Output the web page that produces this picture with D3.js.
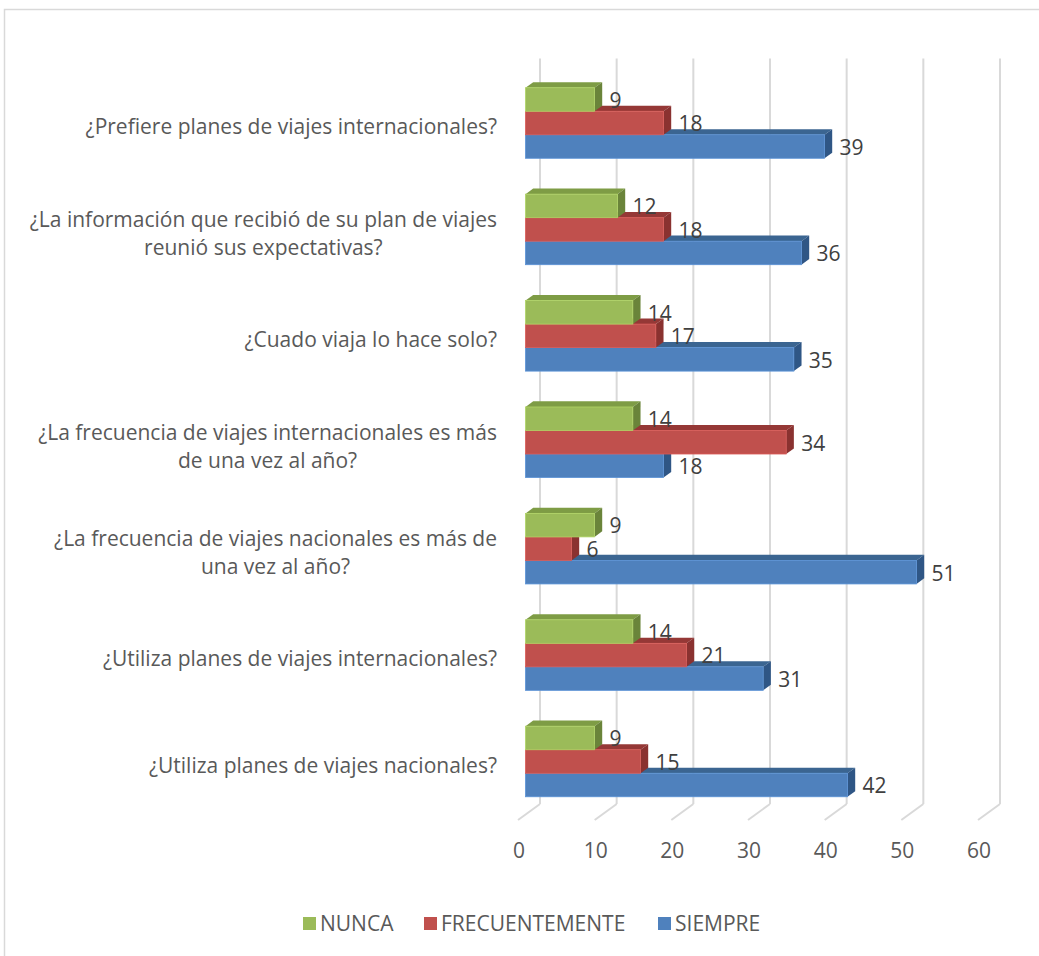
<!DOCTYPE html>
<html>
<head>
<meta charset="utf-8">
<script src="https://cdn.jsdelivr.net/npm/d3@7"></script>
<style>
  html, body { margin: 0; padding: 0; background: #fff; }
  svg { display: block; }
  text { font-family: "Open Sans", Lato, sans-serif; }
</style>
</head>
<body>
<svg id="chart" width="1039" height="956"></svg>
<script>
// Survey questions, top to bottom
const categories = [
  ["¿Prefiere planes de viajes internacionales?"],
  ["¿La información que recibió de su plan de viajes", "reunió sus expectativas?"],
  ["¿Cuado viaja lo hace solo?"],
  ["¿La frecuencia de viajes internacionales es más", "de una vez al año?"],
  ["¿La frecuencia de viajes nacionales es más de", "una vez al año?"],
  ["¿Utiliza planes de viajes internacionales?"],
  ["¿Utiliza planes de viajes nacionales?"]
];
const seriesNames = ["NUNCA", "FRECUENTEMENTE", "SIEMPRE"];
const nunca          = [9, 12, 14, 14, 9, 14, 9];
const frecuentemente = [18, 18, 17, 34, 6, 21, 15];
const siempre        = [39, 36, 35, 18, 51, 31, 42];
const tickValues = [0, 10, 20, 30, 40, 50, 60];

const seriesValues = [nunca, frecuentemente, siempre];
const faceColors = {
  NUNCA:          { front: "#9BBB59", top: "#7E9C45", side: "#6A843A" },
  FRECUENTEMENTE: { front: "#C0504D", top: "#953836", side: "#8A3230" },
  SIEMPRE:        { front: "#4F81BD", top: "#3B6591", side: "#2F5685" }
};

const FONT = 21;
const svg = d3.select("#chart");

// outer chart frame
svg.append("rect")
  .attr("x", 4.5).attr("y", 9.5)
  .attr("width", 1060).attr("height", 980)
  .attr("fill", "none").attr("stroke", "#D9D9D9").attr("stroke-width", 1.5);

// 3D projection: floor front edge, bar plane and back wall offsets
const floorFrontX = 518, floorFrontY = 820;
const wallDX = 22, wallDY = -16;          // front edge -> back wall
const barDX = 7.5, barDY = -5.5;          // floor front -> bar front face
const depthDX = 7.7, depthDY = -5.6;      // bar thickness

const x = d3.scaleLinear().domain([0, 60]).range([0, 460]);

const y = d3.scaleBand()
  .domain(d3.range(categories.length))
  .range([69.8, 814.7])
  .paddingInner(0.337)
  .paddingOuter(0.1685);
const ySub = d3.scaleBand().domain(seriesNames).range([0, y.bandwidth()]);

// back wall gridlines
const grid = svg.append("g");
grid.selectAll("line.wall").data(tickValues).join("line")
  .attr("x1", d => floorFrontX + wallDX + x(d))
  .attr("x2", d => floorFrontX + wallDX + x(d))
  .attr("y1", 58.5)
  .attr("y2", floorFrontY + wallDY)
  .attr("stroke", "#D9D9D9").attr("stroke-width", 2);
// floor gridlines running towards the viewer
grid.selectAll("line.floor").data(tickValues).join("line")
  .attr("x1", d => floorFrontX + wallDX + x(d))
  .attr("y1", floorFrontY + wallDY)
  .attr("x2", d => floorFrontX + x(d))
  .attr("y2", floorFrontY)
  .attr("stroke", "#D9D9D9").attr("stroke-width", 2);

// value axis labels
svg.append("g").selectAll("text").data(tickValues).join("text")
  .attr("x", d => floorFrontX + 1 + x(d))
  .attr("y", 851)
  .attr("dy", "0.35em")
  .attr("text-anchor", "middle")
  .attr("font-size", FONT)
  .attr("fill", "#595959")
  .text(d => d);

// bars: draw bottom series first so upper bars overlap their top faces
const x0 = floorFrontX + barDX;
const bars = svg.append("g");
categories.forEach((cat, i) => {
  for (let s = seriesNames.length - 1; s >= 0; s--) {
    const name = seriesNames[s];
    const v = seriesValues[s][i];
    const c = faceColors[name];
    const yTop = y(i) + ySub(name);
    const h = ySub.bandwidth();
    const xe = x0 + x(v);
    const g = bars.append("g");
    // top face
    g.append("path")
      .attr("d", `M${x0},${yTop} L${x0 + depthDX},${yTop + depthDY} L${xe + depthDX},${yTop + depthDY} L${xe},${yTop} Z`)
      .attr("fill", c.top);
    // right face
    g.append("path")
      .attr("d", `M${xe},${yTop} L${xe + depthDX},${yTop + depthDY} L${xe + depthDX},${yTop + h + depthDY} L${xe},${yTop + h} Z`)
      .attr("fill", c.side);
    // front face
    g.append("rect")
      .attr("x", x0).attr("y", yTop)
      .attr("width", x(v)).attr("height", h)
      .attr("fill", c.front)
      .attr("stroke", d3.color(c.front).brighter(0.35)).attr("stroke-width", 0.8);
  }
});

// value labels
const labels = svg.append("g");
categories.forEach((cat, i) => {
  seriesNames.forEach((name, s) => {
    const v = seriesValues[s][i];
    labels.append("text")
      .attr("x", x0 + x(v) + 15)
      .attr("y", y(i) + ySub(name) + ySub.bandwidth() / 2 + 1)
      .attr("dy", "0.35em")
      .attr("font-size", FONT)
      .attr("fill", "#404040")
      .text(v);
  });
});

// category labels: block right-aligned, lines centred within the block
const catRight = 497;
const lineH = 28;
const catG = svg.append("g");
categories.forEach((lines, i) => {
  const cy = y(i) + y.bandwidth() / 2 + 4;
  const t = catG.append("text")
    .attr("font-size", FONT)
    .attr("fill", "#595959")
    .attr("text-anchor", "middle");
  const spans = lines.map((ln, k) => t.append("tspan")
    .attr("y", cy + (k - (lines.length - 1) / 2) * lineH)
    .attr("dy", "0.35em")
    .text(ln));
  const w = d3.max(spans, sp => sp.node().getComputedTextLength());
  spans.forEach(sp => sp.attr("x", catRight - w / 2));
});

// legend
const legendX = [303, 424, 658];
const legend = svg.append("g");
seriesNames.forEach((name, s) => {
  legend.append("rect")
    .attr("x", legendX[s]).attr("y", 917)
    .attr("width", 13).attr("height", 13)
    .attr("fill", faceColors[name].front);
  legend.append("text")
    .attr("x", legendX[s] + 17).attr("y", 923.5)
    .attr("dy", "0.35em")
    .attr("font-size", FONT)
    .attr("fill", "#595959")
    .text(name);
});
</script>
</body>
</html>
